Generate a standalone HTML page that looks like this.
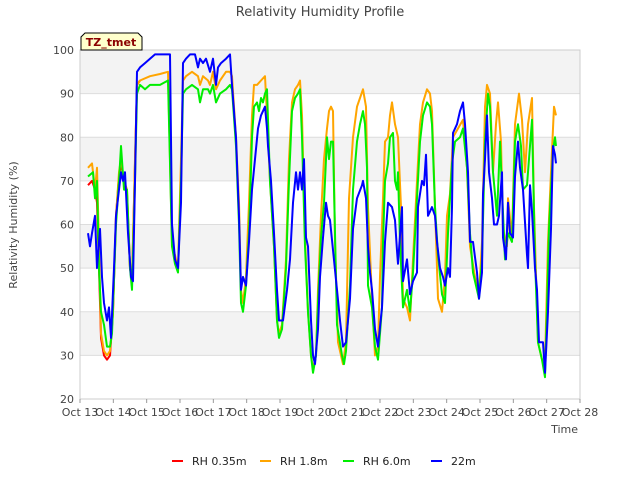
<!DOCTYPE html>
<html><head><meta charset="utf-8"><style>
body{margin:0;background:#fff;font-family:"Liberation Sans","DejaVu Sans",sans-serif}
svg text{font-family:"DejaVu Sans","Liberation Sans",sans-serif}
</style></head><body>
<svg id="chart" width="640" height="480" xmlns="http://www.w3.org/2000/svg">
<rect width="640" height="480" fill="#fff"/>
<text x="320" y="16" text-anchor="middle" font-size="13" fill="#444">Relativity Humidity Profile</text>
<text transform="translate(17,225) rotate(-90)" text-anchor="middle" font-size="11" fill="#444">Relativity Humidity (%)</text>
<text x="578" y="433" text-anchor="end" font-size="11" fill="#444">Time</text>
<g id="bands"></g>
<g id="grid"></g>
<rect x="80" y="50" width="500" height="349" fill="none" stroke="#ccc"/>
<g id="yticks"></g>
<g id="xticks"></g>
<g id="series"></g>
<g>
<path d="M81,50 L81,37 L85,33 L138,33 L142,37 L142,50 Z" fill="#ffffcc" stroke="#000"/>
<text x="111" y="46" text-anchor="middle" font-size="11" font-weight="bold" fill="#8b0000">TZ_tmet</text>
</g>
<g id="legend"></g>
</svg>
<script>
const yTicks=[20,30,40,50,60,70,80,90,100];
const xTickLabels=["Oct 13","Oct 14","Oct 15","Oct 16","Oct 17","Oct 18","Oct 19","Oct 20","Oct 21","Oct 22","Oct 23","Oct 24","Oct 25","Oct 26","Oct 27","Oct 28"];
const seriesNames=["RH 0.35m","RH 1.8m","RH 6.0m","22m"];
const seriesColors=["#ff0000","#ffa500","#00ee00","#0000ff"];
const redT=[0.24,.36,.45,.51,.57,.63,.72,.81,.90,.99,1.08,1.17,1.23,1.32,1.41,1.50,1.56,1.65,1.71,1.80];
const redV=[69,70,68,65,50,34,30,29,30,40,62,71,74,70,67,50,47,74,92,93];
const orangeT=[0.24,.36,.45,.51,.57,.63,.72,.81,.90,.99,1.08,1.17,1.23,1.32,1.41,1.50,1.56,1.65,1.71,1.80,2.10,2.40,2.64,2.76,2.85,2.94,3.03,3.09,3.18,3.36,3.54,3.60,3.69,3.84,3.90,3.99,4.08,4.20,4.38,4.50,4.56,4.68,4.77,4.83,4.89,4.98,5.07,5.16,5.22,5.31,5.43,5.55,5.61,5.70,5.82,5.91,5.97,6.06,6.18,6.27,6.36,6.45,6.54,6.60,6.66,6.75,6.84,6.93,6.99,7.08,7.14,7.23,7.32,7.41,7.47,7.53,7.59,7.65,7.74,7.89,7.98,8.07,8.19,8.31,8.40,8.49,8.58,8.64,8.76,8.85,8.94,9.00,9.09,9.15,9.24,9.30,9.36,9.45,9.54,9.63,9.69,9.81,9.90,9.99,10.11,10.20,10.29,10.41,10.50,10.56,10.65,10.74,10.86,10.95,11.01,11.10,11.19,11.34,11.49,11.61,11.70,11.85,11.97,12.06,12.15,12.21,12.30,12.39,12.48,12.54,12.63,12.69,12.81,12.84,12.96,13.05,13.17,13.26,13.35,13.44,13.56,13.62,13.74,13.86,13.95,14.04,14.13,14.22,14.28];
const orangeV=[73,74,68,73,55,35,31,30,31,40,62,72,75,70,68,50,47,75,92,93,94,94.5,95,55,53,50,75,93,94,95,94,92,94,93,92,95,91,93,95,95,94,80,65,45,42,48,65,85,92,92,93,94,85,70,55,38,35,37,52,75,88,91,92,93,85,57,40,30,27,30,45,62,75,82,86,87,86,56,33,28,33,66,80,87,89,91,87,64,43,30,32,48,66,79,80,85,88,83,80,64,43,41,38,52,70,83,88,91,90,86,64,43,40,48,62,67,80,82,84,73,55,48,44,56,87,92,90,72,83,88,79,59,55,66,57,83,90,84,72,83,89,64,33,29,28,56,72,87,85];
const greenT=[0.24,.39,.45,.51,.57,.63,.72,.81,.90,.96,1.08,1.17,1.23,1.32,1.41,1.50,1.56,1.65,1.71,1.80,1.95,2.10,2.40,2.64,2.76,2.85,2.94,3.03,3.09,3.18,3.36,3.54,3.60,3.69,3.84,3.90,3.99,4.08,4.20,4.38,4.50,4.56,4.68,4.77,4.83,4.89,4.98,5.07,5.16,5.22,5.31,5.37,5.43,5.49,5.55,5.61,5.70,5.82,5.91,5.97,6.06,6.18,6.27,6.36,6.45,6.54,6.60,6.66,6.75,6.84,6.93,6.99,7.08,7.14,7.23,7.32,7.41,7.47,7.53,7.59,7.71,7.86,7.92,7.98,8.10,8.19,8.31,8.40,8.49,8.55,8.61,8.64,8.76,8.85,8.94,9.06,9.09,9.15,9.24,9.30,9.39,9.45,9.51,9.54,9.60,9.69,9.81,9.90,9.99,10.11,10.20,10.29,10.41,10.50,10.56,10.65,10.74,10.86,10.95,11.04,11.16,11.25,11.40,11.49,11.61,11.70,11.79,11.91,11.97,12.06,12.15,12.24,12.30,12.39,12.51,12.60,12.66,12.75,12.84,12.96,13.05,13.14,13.23,13.29,13.41,13.47,13.56,13.65,13.74,13.86,13.95,14.01,14.07,14.19,14.25,14.28];
const greenV=[71,72,66,70,50,40,37,32,32,35,60,70,78,68,68,50,45,70,90,92,91,92,92,93,55,51,49,70,90,91,92,91,88,91,91,90,92,88,90,91,92,91,78,60,42,40,46,58,80,87,88,86,89,88,90,91,70,55,38,34,36,50,70,86,89,90,91,80,55,40,30,26,30,42,57,65,80,75,79,79,37,30,28,31,46,68,79,83,86,83,73,46,41,32,29,41,56,70,74,80,81,70,68,72,56,41,45,40,49,66,79,85,88,87,83,64,53,44,42,58,74,79,80,82,73,58,49,45,43,52,79,90,87,72,62,79,68,52,58,56,79,83,78,68,69,75,84,52,33,29,25,41,59,77,80,78];
const blueT=[0.24,.30,.36,.45,.51,.60,.66,.72,.81,.87,.93,1.02,1.08,1.17,1.23,1.29,1.35,1.44,1.53,1.59,1.65,1.71,1.80,1.95,2.10,2.25,2.40,2.70,2.76,2.85,2.94,3.03,3.09,3.18,3.30,3.45,3.54,3.60,3.69,3.78,3.90,3.99,4.08,4.14,4.23,4.38,4.50,4.56,4.68,4.77,4.83,4.89,4.98,5.07,5.16,5.25,5.34,5.43,5.55,5.61,5.64,5.73,5.82,5.91,5.97,6.09,6.21,6.30,6.39,6.48,6.54,6.60,6.66,6.72,6.78,6.84,6.93,6.99,7.05,7.14,7.20,7.29,7.38,7.44,7.50,7.71,7.80,7.89,7.98,8.10,8.19,8.31,8.46,8.49,8.58,8.64,8.70,8.76,8.85,8.94,9.06,9.15,9.24,9.36,9.45,9.51,9.54,9.66,9.69,9.81,9.90,9.99,10.11,10.14,10.26,10.32,10.38,10.44,10.56,10.65,10.71,10.80,10.89,10.95,11.04,11.10,11.16,11.19,11.31,11.40,11.49,11.55,11.64,11.70,11.79,11.91,11.97,12.06,12.09,12.15,12.21,12.27,12.36,12.42,12.51,12.57,12.66,12.69,12.78,12.84,12.90,12.99,13.05,13.14,13.20,13.29,13.41,13.44,13.50,13.56,13.65,13.71,13.77,13.89,13.95,14.04,14.13,14.19,14.25,14.28];
const blueV=[58,55,58,62,50,59,48,42,38,41,34,50,62,68,72,70,72,58,48,47,70,95,96,97,98,99,99,99,60,52,50,65,97,98,99,99,96,98,97,98,95,98,92,96,97,98,99,92,80,62,45,48,46,56,68,75,82,85,87,82,78,70,58,45,38,38,45,52,65,72,68,72,68,75,57,55,38,30,28,36,48,57,65,62,61,45,38,32,33,43,59,66,69,70,66,55,49,45,36,32,41,56,65,64,61,54,51,64,47,52,44,47,49,64,70,69,76,62,64,62,56,50,48,46,50,48,64,81,83,86,88,83,72,56,56,49,43,49,67,75,85,72,66,60,60,62,72,57,52,65,58,57,71,79,73,68,53,50,69,63,50,45,33,33,26,40,59,78,76,74];

const NS="http://www.w3.org/2000/svg";
const X0=80,X1=580,Y0=399,Y1=50,TMAX=15,VMIN=20,VMAX=100;
const xs=t=>X0+(X1-X0)*t/TMAX;
const ys=v=>Y0-(Y0-Y1)*(v-VMIN)/(VMAX-VMIN);
function mk(tag,attrs,parent){const e=document.createElementNS(NS,tag);for(const k in attrs)e.setAttribute(k,attrs[k]);parent.appendChild(e);return e;}
const bands=document.getElementById('bands'),grid=document.getElementById('grid'),yt=document.getElementById('yticks'),xt=document.getElementById('xticks'),ser=document.getElementById('series'),leg=document.getElementById('legend');
for(let i=0;i<yTicks.length-1;i++){
  if(i%2===1){const b=mk('rect',{x:X0,y:ys(yTicks[i+1]),width:X1-X0,height:ys(yTicks[i])-ys(yTicks[i+1]),fill:'#f3f3f3'},bands);
  
  }
}
yTicks.forEach(v=>{
  const l=mk('line',{x1:X0,x2:X1,y1:ys(v),y2:ys(v),stroke:'#ddd'},grid);
  
  
  const t=mk('text',{x:X0-6,y:ys(v)+4,'text-anchor':'end','font-size':'11',fill:'#444'},yt);
  t.textContent=v;
  
  
});
xTickLabels.forEach((s,i)=>{
  mk('line',{x1:xs(i),x2:xs(i),y1:Y0,y2:Y0+4,stroke:'#999'},xt);
  const t=mk('text',{x:xs(i),y:Y0+17,'text-anchor':'middle','font-size':'11',fill:'#444'},xt);
  t.textContent=s;
  
  
});
const allT=[redT,orangeT,greenT,blueT],allV=[redV,orangeV,greenV,blueV];
allT.forEach((T,si)=>{
  const d=T.map((t,i)=>(i?'L':'M')+xs(t).toFixed(1)+','+ys(allV[si][i]).toFixed(1)).join('');
  const p=mk('path',{d:d,fill:'none',stroke:seriesColors[si],'stroke-width':'2','stroke-linejoin':'round'},ser);
  
  
});
const legX=[172,260,343,431];
seriesNames.forEach((n,i)=>{
  const g=mk('g',{},leg);
  
  
  mk('line',{x1:legX[i],x2:legX[i]+11,y1:461,y2:461,stroke:seriesColors[i],'stroke-width':'2'},g);
  const t=mk('text',{x:legX[i]+20,y:465,'font-size':'11',fill:'#222'},g);
  t.textContent=n;
});
</script>
</body></html>
